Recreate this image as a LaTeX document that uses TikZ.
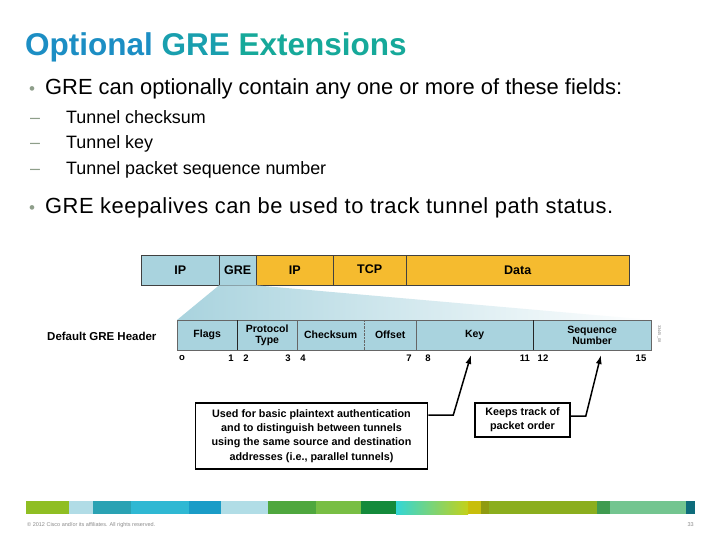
\documentclass[tikz,border=0pt]{standalone}
\usepackage{fontspec}
\setmainfont{Liberation Sans}
\usetikzlibrary{arrows.meta}

\definecolor{fieldblue}{HTML}{A9D3DE}
\definecolor{packorange}{HTML}{F5BB2F}
\definecolor{titleA}{HTML}{1C8EC4}
\definecolor{titleB}{HTML}{199FAE}
\definecolor{titleC}{HTML}{16A99A}
\definecolor{bulletgray}{HTML}{8E9E8A}

\tikzset{
  field/.style={draw=black!75, fill=#1, minimum height=30pt, inner sep=0pt,
    anchor=north west, font=\fontsize{12.5}{14}\selectfont\bfseries},
  hfield/.style={fill=fieldblue, minimum height=30pt, inner sep=0pt,
    anchor=north west, align=center, font=\fontsize{10.5}{11.5}\selectfont\bfseries},
  bitno/.style={font=\fontsize{9.5}{10}\selectfont\bfseries, inner sep=0pt},
  note/.style={draw, line width=1.6pt, align=center, inner sep=3pt,
    font=\fontsize{10.8}{14.3}\selectfont\bfseries},
  callout/.style={line width=1.5pt, -{Latex[length=9pt,width=6pt]}},
  bodytext/.style={anchor=west, inner sep=0pt, font=\fontsize{21.9}{24}\selectfont},
  subtext/.style={anchor=west, inner sep=0pt, font=\fontsize{17.9}{20}\selectfont},
  stripe/.style={fill=#1, draw=none}
}

\begin{document}
\begin{tikzpicture}[x=1pt, y=-1pt]
  \useasboundingbox[fill=white] (0,0) rectangle (720,540);

  % title
  \node[anchor=west, inner sep=0pt, font=\fontsize{31.5}{34}\selectfont\bfseries] (title) at (25,47)
    {\color{titleA}Optional \color{titleB}GRE \color{titleC}Extensions};

  % bullets
  \node[bodytext] (b1) at (45,89) {GRE can optionally contain any one or more of these fields:};
  \node[bodytext, anchor=base west, text=bulletgray, font=\fontsize{17}{20}\selectfont] (b1dot) at ([xshift=-16pt]b1.base west) {\textbullet};
  \foreach \y/\txt [count=\i] in {117/Tunnel checksum, 144/Tunnel key, 170/Tunnel packet sequence number} {
    \node[subtext] (s\i) at (66,\y) {\txt};
    \node[subtext, anchor=base west, text=bulletgray] (s\i dash) at ([xshift=-36pt]s\i.base west) {--};
  }
  \node[bodytext] (b2) at (45,208) {\addfontfeatures{LetterSpace=2.3}GRE keepalives can be used to track tunnel path status.};
  \node[bodytext, anchor=base west, text=bulletgray, font=\fontsize{17}{20}\selectfont] (b2dot) at ([xshift=-16pt]b2.base west) {\textbullet};

  % packet
  \node[field=fieldblue, minimum width=78pt] (ipouter) at (141,255) {IP};
  \node[field=fieldblue, minimum width=37pt] (gre) at (219,255) {GRE};
  \node[field=packorange, minimum width=77pt] (ipinner) at (256,255) {IP};
  \node[field=packorange, minimum width=73pt] (tcp) at (333,255) {\raisebox{2pt}{TCP}};
  \node[field=packorange, minimum width=223pt] (data) at (406,255) {Data};

  % header fields
  \node[hfield, minimum width=60pt] (flags) at (177,320) {Flags};
  \node[hfield, minimum width=60pt] (proto) at (237,320) {Protocol\\Type};
  \node[hfield, minimum width=67pt] (chksum) at (297,320) {Checksum};
  \node[hfield, minimum width=52pt] (offset) at (364,320) {Offset};
  \node[hfield, minimum width=117pt] (key) at (416,320) {Key};
  \node[hfield, minimum width=118pt] (seqno) at (533,320) {Sequence\\Number};

  % zoom fan from GRE to header
  \shade[left color=fieldblue, right color=white] (gre.south west) -- (gre.south east)
    -- (seqno.north east) -- (flags.north west) -- cycle;

  % header outline and dividers
  \draw[black!60] (flags.north west) rectangle (seqno.south east);
  \draw[black!85, line width=1.2pt] (flags.north east) -- (flags.south east);
  \draw[black!60] (proto.north east) -- (proto.south east);
  \draw[black!60, densely dotted] (chksum.north east) -- (chksum.south east);
  \draw[black!60] (offset.north east) -- (offset.south east);
  \draw[black!85, line width=0.9pt] (key.north east) -- (key.south east);

  \node[anchor=west, inner sep=0pt, font=\fontsize{11.5}{13}\selectfont\bfseries] (hdrlabel) at (47,336) {Default GRE Header};
  \node[rotate=-90, inner sep=0pt, text=black!50, font=\fontsize{4}{4}\selectfont] (figid) at (659,334) {33445\_08};

  % bit numbers
  \foreach \x/\n in {182/o, 231/1, 246/2, 288/3, 303/4, 409/7, 428/8, 525/11, 543/12, 641/15}
    \node[bitno] (bit\n) at (\x,358) {\n};

  % notes
  \node[note, minimum width=232pt, minimum height=66pt] (keynote) at (311.5,436)
    {Used for basic plaintext authentication\\and to distinguish between tunnels\\using the same source and destination\\addresses (i.e., parallel tunnels)};
  \node[note, minimum width=95pt, minimum height=34pt] (seqnote) at (522.5,420)
    {Keeps track of\\packet order};

  % callouts
  \coordinate (keytip) at (471,355);
  \coordinate (seqtip) at (601,355);
  \draw[callout] ([yshift=21pt]keynote.east) -- ++(25,0) -- (keytip);
  \draw[callout] ([yshift=4pt]seqnote.east) -- ++(15,0) -- (seqtip);

  % footer stripe
  \foreach \a/\b/\c in {26/69/8FBE23, 69/93/B1DCE6, 93/131/2AA2B3, 131/189/2FB8D3,
      189/221/1A9CC7, 221/268/B1DDE6, 268/316/4FA73E, 316/361/78BE44, 361/396/148A3B,
      468/481/C8BE0B, 481/489/8F9B10, 489/597/8BAE1E, 597/610/3F9B50, 610/686/73C590,
      686/695/0E6C7B} {
    \definecolor{stripecol}{HTML}{\c}
    \fill[stripe=stripecol] (\a,501) rectangle (\b,514);
  }
  \shade[left color=cyan!60!teal!80, right color=yellow!70!lime!80!black!90] (396,501) rectangle (468,514);

  % footer text
  \node[anchor=west, inner sep=0pt, text=black!45, font=\fontsize{5.5}{6}\selectfont] (copy) at (27,525)
    {\textcopyright{} 2012 Cisco and/or its affiliates. All rights reserved.};
  \node[anchor=east, inner sep=0pt, text=black!45, font=\fontsize{5.5}{6}\selectfont] (pageno) at (694,525) {33};
\end{tikzpicture}
\end{document}
